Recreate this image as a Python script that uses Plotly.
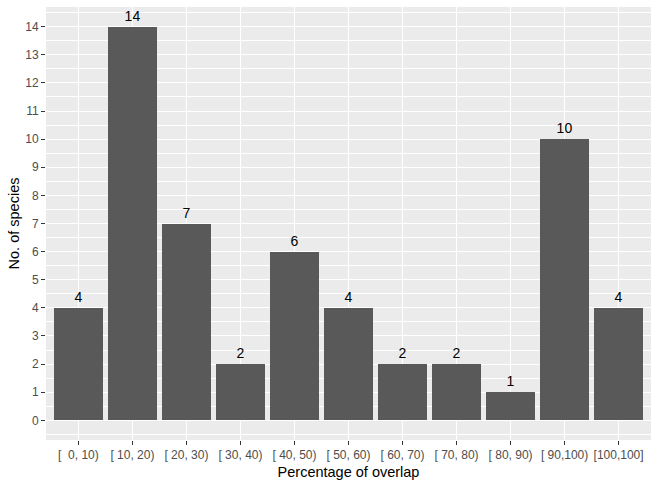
import plotly.graph_objects as go

NB = "\u00a0"
categories = ["[  0, 10)", "[ 10, 20)", "[ 20, 30)", "[ 30, 40)", "[ 40, 50)", "[ 50, 60)",
              "[ 60, 70)", "[ 70, 80)", "[ 80, 90)", "[ 90,100)", "[100,100]"]
counts = [4, 14, 7, 2, 6, 4, 2, 2, 1, 10, 4]
y_ticks = list(range(0, 15))

fig = go.Figure()
fig.add_trace(go.Bar(
    x=list(range(1, len(categories) + 1)), y=counts, width=0.9,
    marker=dict(color="#595959", line=dict(width=0)),
    text=[str(c) for c in counts], textposition="outside",
    textfont=dict(family="Liberation Sans, Arial", size=14, color="black"),
    cliponaxis=False,
))

fig.update_layout(
    width=659, height=487,
    margin=dict(l=46, r=8, t=7, b=47),
    paper_bgcolor="white", plot_bgcolor="#EBEBEB",
    showlegend=False, bargap=0,
    font=dict(family="Liberation Sans, Arial"),
    uniformtext=dict(minsize=14, mode=False),
)
fig.update_xaxes(
    range=[0.4, 11.6], tickmode="array",
    tickvals=list(range(1, len(categories) + 1)),
    ticktext=[c.replace(" ", NB) for c in categories],
    showgrid=True, gridcolor="white", gridwidth=1.1,
    ticks="outside", ticklen=4, tickcolor="#333333", tickwidth=1,
    tickfont=dict(size=12, color="#4D4D4D"),
    title=dict(text="Percentage of overlap", font=dict(size=14.5, color="black"), standoff=5),
    zeroline=False, showline=False,
)
fig.update_yaxes(
    range=[-0.7, 14.7], tickmode="array", tickvals=y_ticks,
    showgrid=True, gridcolor="white", gridwidth=1.1,
    minor=dict(dtick=0.5, tick0=0.5, showgrid=True, gridcolor="white", gridwidth=0.5, ticks=""),
    ticks="outside", ticklen=4, tickcolor="#333333", tickwidth=1,
    tickfont=dict(size=12, color="#4D4D4D"),
    title=dict(text="No. of species", font=dict(size=14.5, color="black"), standoff=2),
    zeroline=False, showline=False,
)

fig.write_html("out.html")
